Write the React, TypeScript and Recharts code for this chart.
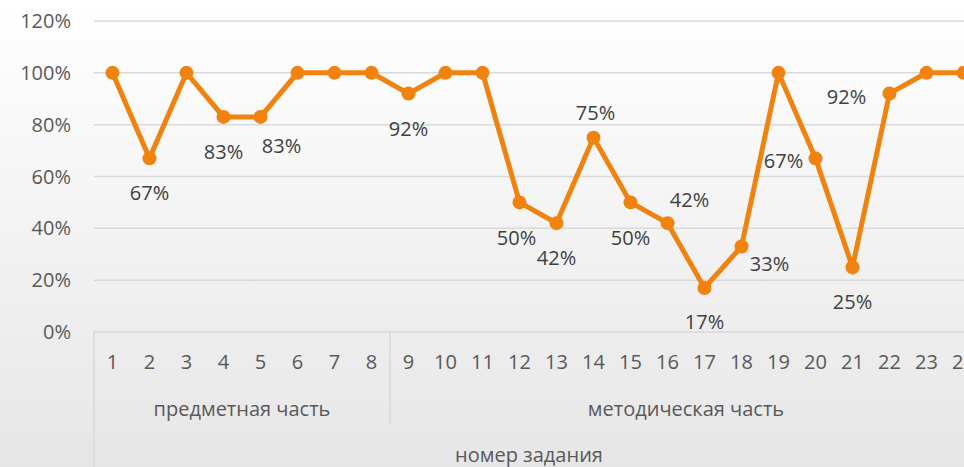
import { LineChart, Line, XAxis, YAxis, CartesianGrid } from 'recharts';

const tasks = ['1', '2', '3', '4', '5', '6', '7', '8', '9', '10', '11', '12', '13', '14', '15', '16', '17', '18', '19', '20', '21', '22', '23', '24'];
const shares = [1, 0.67, 1, 0.83, 0.83, 1, 1, 1, 0.92, 1, 1, 0.5, 0.42, 0.75, 0.5, 0.42, 0.17, 0.33, 1, 0.67, 0.25, 0.92, 1, 1];
const partNames = ['предметная часть', 'методическая часть'];
const partSizes = [8, 16];
const axisTitle = 'номер задания';
const yTicks = [0, 0.2, 0.4, 0.6, 0.8, 1, 1.2];

// where each data label sits relative to its point
const labelSide: Record<number, [number, number]> = {
  1: [0, 42], 3: [0, 42], 4: [21, 36], 8: [0, 42], 11: [-3, 43], 12: [0, 42],
  13: [2, -18], 14: [0, 43], 15: [22, -16], 16: [0, 41], 17: [28, 25],
  19: [-32, 10], 20: [0, 42], 21: [-43, 10],
};

const W = 1000;
const PLOT_LEFT = 94;
const PLOT_RIGHT = 982;
const STEP = (PLOT_RIGHT - PLOT_LEFT) / tasks.length;
const FONT = '"Open Sans", sans-serif';
const FS = 20;
const ORANGE = '#F0820F';

const data = tasks.map((n, i) => ({ n, v: shares[i] }));

const partStarts = partSizes.map((_, i) => partSizes.slice(0, i).reduce((a, b) => a + b, 0));

function TaskTick(props: any) {
  const { x, y, index, payload } = props;
  const left = x - STEP / 2;
  const part = partStarts.indexOf(index);
  return (
    <g>
      <text x={x} y={y + 37} textAnchor="middle" fill="#595959" fontSize={FS} fontFamily={FONT}>
        {payload.value}
      </text>
      {part >= 0 && (
        <>
          <line x1={left} x2={left} y1={y} y2={part === 0 ? y + 140 : y + 92} stroke="#d9d9d9" strokeWidth={1.5} />
          <text x={left + (partSizes[part] * STEP) / 2} y={y + 84} textAnchor="middle" fill="#595959" fontSize={FS} fontFamily={FONT}>
            {partNames[part]}
          </text>
        </>
      )}
      {index === 0 && (
        <text x={(left + 964) / 2} y={y + 130} textAnchor="middle" fill="#595959" fontSize={FS} fontFamily={FONT}>
          {axisTitle}
        </text>
      )}
    </g>
  );
}

function PointLabel(props: any) {
  const { x, y, value, index } = props;
  const off = labelSide[index];
  if (!off || value >= 1) return null;
  return (
    <text x={x + off[0]} y={y + off[1]} textAnchor="middle" fill="#404040" fontSize={FS} fontFamily={FONT}>
      {Math.round(value * 100)}%
    </text>
  );
}

export default function App() {
  return (
    <div
      style={{
        position: 'fixed',
        left: 0,
        top: 0,
        width: 964,
        height: 467,
        overflow: 'hidden',
        background: 'linear-gradient(#ffffff, #e6e6e6)',
      }}
    >
      <LineChart width={W} height={467} data={data} margin={{ top: 21, right: W - PLOT_RIGHT, bottom: 0, left: 0 }}>
        <CartesianGrid vertical={false} stroke="#d9d9d9" strokeWidth={1.5} />
        <XAxis
          dataKey="n"
          scale="band"
          interval={0}
          height={135}
          axisLine={false}
          tickLine={false}
          tickSize={0}
          tickMargin={0}
          tick={<TaskTick />}
        />
        <YAxis
          width={PLOT_LEFT}
          domain={[0, 1.2]}
          ticks={yTicks}
          axisLine={false}
          tickLine={false}
          tickSize={0}
          tickMargin={23}
          tickFormatter={(v: number) => `${Math.round(v * 100)}%`}
          tick={{ fill: '#595959', fontSize: FS, fontFamily: FONT }}
        />
        <Line
          dataKey="v"
          stroke={ORANGE}
          strokeWidth={5}
          dot={{ r: 7, fill: ORANGE, stroke: 'none' }}
          activeDot={false}
          label={<PointLabel />}
          isAnimationActive={false}
        />
      </LineChart>
    </div>
  );
}
